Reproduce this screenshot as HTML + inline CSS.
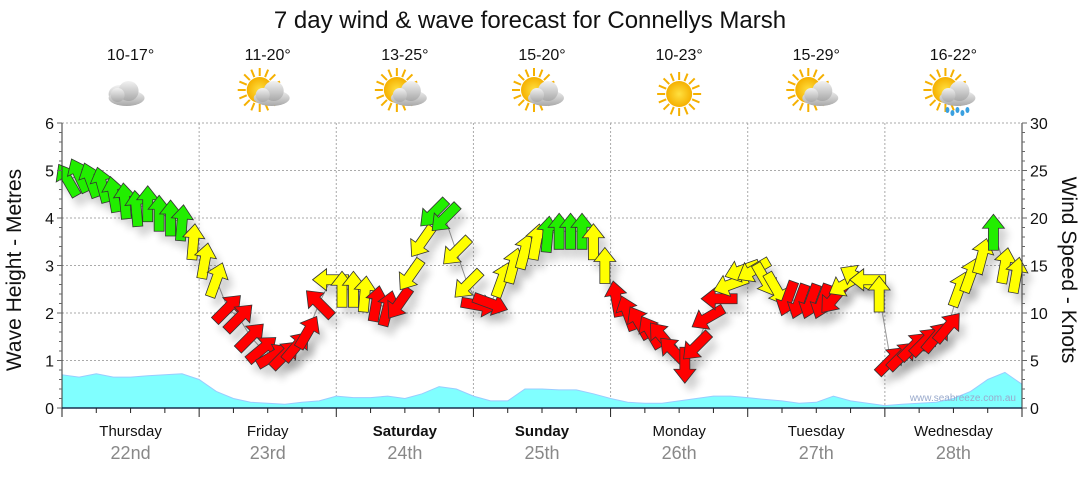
<!DOCTYPE html>
<html><head><meta charset="utf-8"><style>
body{margin:0;background:#fff;font-family:"Liberation Sans",sans-serif}
svg text{font-family:"Liberation Sans",sans-serif}
</style></head><body>
<svg id="chart" width="1080" height="475" viewBox="0 0 1080 475" xmlns="http://www.w3.org/2000/svg">
<defs>
<filter id="sh" x="-50%" y="-50%" width="200%" height="200%"><feGaussianBlur stdDeviation="4"/></filter>
<radialGradient id="sun" cx="50%" cy="50%" r="50%"><stop offset="0" stop-color="#ffe040"/><stop offset="1" stop-color="#f5b000"/></radialGradient>
<linearGradient id="cl" x1="0" y1="0" x2="0" y2="1"><stop offset="0" stop-color="#f2f2f2"/><stop offset="1" stop-color="#a8a8a8"/></linearGradient>
</defs>
<text x="530" y="28" text-anchor="middle" font-size="24" fill="#111">7 day wind &amp; wave forecast for Connellys Marsh</text>
<g id="grid"></g>
<g id="waves"></g>
<g id="wind"></g>
<g id="axes"></g>
<g id="days"></g>
<text transform="translate(21,270) rotate(-90)" text-anchor="middle" font-size="21" fill="#111">Wave Height - Metres</text>
<text transform="translate(1062,270) rotate(90)" text-anchor="middle" font-size="21" fill="#111">Wind Speed - Knots</text>
<text x="1016" y="401" text-anchor="end" font-size="10" fill="#99aacc">www.seabreeze.com.au</text>
</svg>
<script>
const dayNames=["Thursday","Friday","Saturday","Sunday","Monday","Tuesday","Wednesday"];
const dayDates=["22nd","23rd","24th","25th","26th","27th","28th"];
const boldDays=[false,false,true,true,false,false,false];
const temps=["10-17°","11-20°","13-25°","15-20°","10-23°","15-29°","16-22°"];
const icons=["cloud","suncloud","suncloud","suncloud","sun","suncloud","rain"];
const waveHeights=[0.7,0.65,0.72,0.65,0.65,0.68,0.7,0.72,0.6,
0.35,0.2,0.12,0.1,0.08,0.12,0.15,0.25,
0.22,0.22,0.25,0.2,0.3,0.45,0.4,0.25,
0.15,0.15,0.4,0.4,0.38,0.38,0.3,0.2,
0.12,0.1,0.1,0.15,0.2,0.25,0.25,0.22,
0.18,0.15,0.1,0.12,0.25,0.15,0.1,0.05,
0.08,0.1,0.12,0.2,0.35,0.6,0.75,0.5];
const windSpeeds=[24,24.5,24,23.5,22.5,21.8,21,21.5,20.5,20,19.5,17.5,
15.5,13.5,10.5,9.5,7.5,6.2,5.5,5.6,6.5,8,11,13.5,
12.5,12.5,12,11,10.5,11,14,17.5,20.5,20,16.5,13,
10.8,11,13.5,15,16.5,17.5,18.3,18.6,18.6,18.6,17.5,15,
11.5,10,9,8,7.5,6,4.5,6.5,9.5,11.5,13,14.5,
14.5,13.5,12.5,11.5,11.2,11.2,11.2,11.5,13,13.8,13.5,12,
5,5.5,6.5,7,7.5,8.5,12.5,14,16,18.5,15,14];
const windHeadings=[330,335,340,345,350,355,355,0,0,0,5,5,
10,20,45,45,45,50,60,45,40,30,315,270,
0,0,5,10,15,215,215,215,225,225,225,225,
100,110,20,15,15,10,5,0,0,0,0,0,
350,340,330,330,320,315,180,225,240,270,250,250,
240,150,150,200,200,200,200,220,240,300,270,0,
45,45,45,45,40,40,20,20,15,0,10,10];
const NS="http://www.w3.org/2000/svg";
const X0=62,X1=1022,Y0=408,Y1=123,N=56,NW=windSpeeds.length;
const xAt=i=>X0+i*(X1-X0)/N;
const xW=i=>X0+(i+0.5)*(X1-X0)/NW;
const yM=v=>Y0-v/6*(Y0-Y1);
const yK=v=>Y0-v/30*(Y0-Y1);
function mk(tag,attrs,parent){const e=document.createElementNS(NS,tag);for(const k in attrs)e.setAttribute(k,attrs[k]);parent.appendChild(e);return e;}
const grid=document.getElementById('grid'),axes=document.getElementById('axes'),waves=document.getElementById('waves'),wind=document.getElementById('wind'),days=document.getElementById('days');
for(let m=1;m<=6;m++){const l=mk('line',{x1:X0,x2:X1,y1:yM(m),y2:yM(m),stroke:'#aaa','stroke-dasharray':'2,2'},grid);

}
for(let d=1;d<=7;d++){const x=xAt(d*8);const l=mk('line',{x1:x,x2:x,y1:Y1,y2:Y0,stroke:'#aaa','stroke-dasharray':'2,2'},grid);

}
let dpts=`M${X0},${Y0}`;waveHeights.forEach((v,i)=>{dpts+=` L${xAt(i).toFixed(1)},${yM(v).toFixed(1)}`});dpts+=` L${X1},${Y0} Z`;
const wa=mk('path',{d:dpts,fill:'#80ffff',stroke:'#99ccff','stroke-width':1},waves);


let lp='';windSpeeds.forEach((v,i)=>{lp+=(i?' L':'M')+xW(i).toFixed(1)+','+yK(v).toFixed(1)});
const wl=mk('path',{d:lp,fill:'none',stroke:'#999','stroke-width':1},wind);


const arrowD='M0,-18 L11,-4 L5,-4 L5,18 L-5,18 L-5,-4 L-11,-4 Z';
windSpeeds.forEach((v,i)=>{const x=xW(i),y=yK(v);
const s=mk('path',{d:arrowD,transform:`translate(${x+6},${y+9}) rotate(${windHeadings[i]})`,fill:'#000',opacity:0.18,filter:'url(#sh)'},wind);

});
windSpeeds.forEach((v,i)=>{const x=xW(i),y=yK(v);
const c=v>=18?'#22ee00':(v>=12?'#ffff00':'#ff0000');
const a=mk('path',{d:arrowD,transform:`translate(${x},${y}) rotate(${windHeadings[i]})`,fill:c,stroke:'#333','stroke-width':0.8},wind);

});
const la=mk('line',{x1:X0,x2:X0,y1:Y1,y2:Y0,stroke:'#333'},axes);


const ra=mk('line',{x1:X1,x2:X1,y1:Y1,y2:Y0,stroke:'#333'},axes);


const ba=mk('line',{x1:X0,x2:X1,y1:Y0,y2:Y0,stroke:'#1a3050','stroke-width':1.5},axes);


for(let k=0;k<=30;k++){const y=yM(k*0.2);mk('line',{x1:X0-(k%5?3:5),x2:X0,y1:y,y2:y,stroke:'#666'},axes);}
for(let m=0;m<=6;m++){const t=mk('text',{x:X0-8,y:yM(m)+6,'text-anchor':'end','font-size':16,fill:'#111'},axes);t.textContent=m;

}
for(let k=0;k<=30;k++){const y=yK(k);mk('line',{x1:X1,x2:X1+(k%5?3:5),y1:y,y2:y,stroke:'#666'},axes);}
for(let k=0;k<=30;k+=5){const t=mk('text',{x:X1+8,y:yK(k)+6,'font-size':16,fill:'#111'},axes);t.textContent=k;

}
for(let i=0;i<=28;i++){const x=xAt(i*2);mk('line',{x1:x,x2:x,y1:Y0,y2:Y0+(i%4?5:9),stroke:'#222'},axes);}
function icon(type,cx,cy,g){
 if(type!=='cloud'){const sx=type==='sun'?cx:cx-8,sy=type==='sun'?cy:cy-4;
  for(let r=0;r<16;r++){const a=r*Math.PI/8;mk('line',{x1:sx+Math.cos(a)*14,y1:sy+Math.sin(a)*14,x2:sx+Math.cos(a)*22,y2:sy+Math.sin(a)*22,stroke:'#f5b000','stroke-width':2},g);}
  mk('circle',{cx:sx,cy:sy,r:13,fill:'url(#sun)'},g);}
 if(type!=='sun'){const ox=type==='cloud'?cx-4:cx+4,oy=cy+4;
  if(type==='cloud'){mk('ellipse',{cx:ox-6,cy:oy-4,rx:12,ry:9,fill:'url(#cl)'},g);}
  mk('ellipse',{cx:ox,cy:oy,rx:18,ry:8,fill:'url(#cl)'},g);mk('circle',{cx:ox+2,cy:oy-7,r:10,fill:'url(#cl)'},g);mk('circle',{cx:ox-9,cy:oy-3,r:7,fill:'url(#cl)'},g);
  if(type==='rain'){for(let r=0;r<5;r++)mk('ellipse',{cx:ox-10+r*5,cy:oy+12+(r%2)*3,rx:2,ry:3,fill:'#3aa0e0'},g);}}
}
for(let d=0;d<7;d++){const cx=xAt(d*8+4);
 const t=mk('text',{x:cx,y:60,'text-anchor':'middle','font-size':16,fill:'#111'},days);t.textContent=temps[d];
 
 
 const g=mk('g',{},days);
 
 
 icon(icons[d],cx,94,g);
 const n=mk('text',{x:cx,y:436,'text-anchor':'middle','font-size':15,fill:'#111','font-weight':boldDays[d]?'bold':'normal'},days);n.textContent=dayNames[d];
 
 
 const dt=mk('text',{x:cx,y:459,'text-anchor':'middle','font-size':18,fill:'#888'},days);dt.textContent=dayDates[d];
 
 }
</script>
</body></html>
